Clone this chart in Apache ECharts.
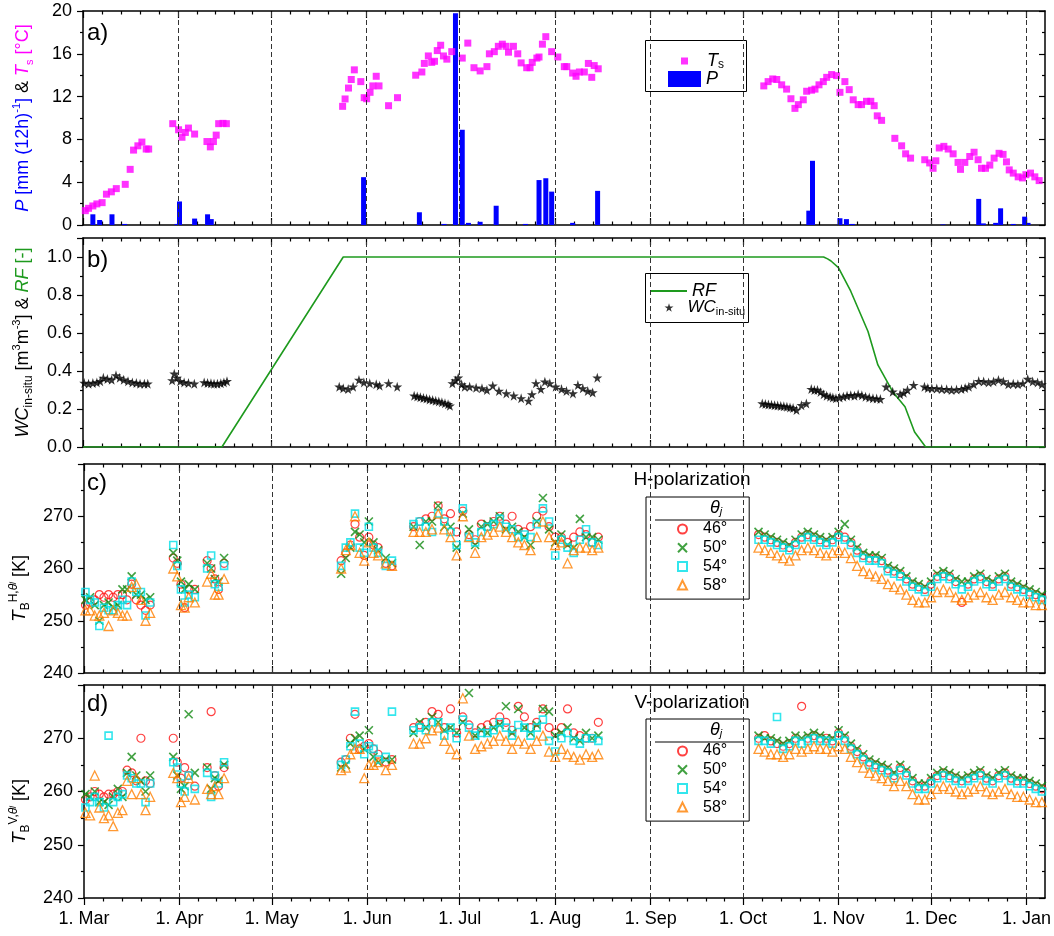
<!DOCTYPE html>
<html><head><meta charset="utf-8">
<script src="https://cdn.jsdelivr.net/npm/echarts@6/dist/echarts.min.js"></script>
<style>html,body{margin:0;padding:0;background:#fff}#c{width:1054px;height:936px}</style>
</head><body><div id="c"></div>
<script>
// ---------- axis labels ----------
const monthLabels = ['1. Mar','1. Apr','1. May','1. Jun','1. Jul','1. Aug','1. Sep','1. Oct','1. Nov','1. Dec','1. Jan'];
const monthStarts = [0,31,61,92,122,153,184,214,245,275,306]; // days after 1 Mar
const nextMonthStart = 337;

// ---------- panel a ----------
const tsDays = [0.75,1.8,3.2,4.5,6.2,7.6,9.2,10.8,13.7,15.3,16.4,17.8,19.1,20.5,21.3,
 29.1,31,32.1,33.2,34.2,36.2,40.2,41.3,42.3,43.2,44,45.4,46.5,
 84.2,85,86.1,87,88,90.1,91.2,92,93.1,94,95.1,96,99.1,102,
 107.9,109.9,110.7,112,113.1,114,114.9,116,116.9,118,119.6,123,124.8,126.8,128.8,131,131.8,133.4,134.7,136,137.2,138,139.6,141,142.1,143.9,145,145.7,147.2,147.9,149,150.1,152,154,156.1,156.9,158.8,159.9,161,162.6,163.9,165,165.8,167.1,
 220.8,222.2,223.7,225,226.6,228.2,229.6,230.9,232,233.6,234.7,236.3,237.4,238.7,240.1,241.2,242.8,244.4,245.5,247.1,248.5,249.8,251.4,252.5,254.1,255.5,256.6,257.6,259,263.3,265.5,266.8,268.4,273,274.6,275.7,276.6,277.7,279.2,280.6,282.2,283.8,284.6,286,287.6,289,290.3,291.4,292.7,294.1,295.5,297.1,298.4,299.5,300.4,301.7,303.3,304.7,305.8,307.3,308.7,310.1];
const tsVals = [1.34,1.56,1.78,1.97,2.09,2.88,3.1,3.4,3.8,5.2,7.0,7.4,7.75,7.1,7.1,
 9.47,8.9,8.2,8.65,9.06,8.5,7.8,7.3,7.8,8.4,9.47,9.5,9.47,
 11.09,11.78,12.8,13.6,14.5,13.4,11.9,11.8,12.4,13.0,13.9,13.0,11.15,11.9,
 14.0,14.3,15.1,15.8,15.2,15.3,16.3,16.8,15.8,15.5,16.2,15.6,17.0,14.7,14.4,14.8,16.0,16.2,16.7,16.9,16.7,16.15,16.7,16.0,15.15,14.7,14.7,15.2,15.6,15.7,16.9,17.6,16.2,15.7,14.8,14.8,14.2,13.9,14.3,14.3,15.1,13.8,14.9,14.6,
 13.0,13.4,13.65,13.6,13.1,12.7,11.8,10.9,11.25,11.7,12.5,12.6,12.7,13.1,13.4,13.8,14.06,13.96,12.4,13.4,12.65,11.7,11.25,11.25,11.56,11.56,11.15,10.2,9.78,8.1,7.4,6.65,6.25,6.1,5.8,5.3,6.0,7.2,7.35,7.1,6.65,5.85,5.2,5.85,6.4,6.8,6.1,5.3,5.3,5.6,6.25,6.7,6.6,5.9,5.15,4.85,4.5,4.4,4.7,4.85,4.5,4.15];
const pDays = [3.2,5.4,9.4,13.5,30.5,31.3,36.2,40.4,41.6,
 91.0,109.1,117.1,120.8,123.0,125,128.8,134.0,143.5,147.9,150.1,152.0,158.8,166.9,
 235.4,236.6,245.5,247.6,249.5,278.9,290.5,292,296,297.6,301.7,305.4,306.5];
const pVals = [1.0,0.47,1.0,0.1,0.1,2.2,0.6,1.0,0.55,
 4.47,1.19,0.1,19.8,8.9,0.2,0.3,1.8,0.1,4.2,4.37,3.12,0.2,3.19,
 1.34,6.0,0.63,0.55,0.1,0.05,2.44,0.15,0.2,1.56,0.1,0.78,0.2];

// ---------- panel b ----------
const rfDays = [0,45.05,84.4,240.2,241.5,242.6,245,249,254.6,257.8,262.6,266.6,269.7,273.3,312];
const rfVals = [0,0,1,1,0.99,0.979,0.944,0.82,0.608,0.432,0.291,0.212,0.079,0,0];
const wcDays = [0.4,1.8,3.2,4.5,5.6,6.6,7.9,9.3,10.7,11.9,13.2,14.6,16,17.3,18.5,19.9,21,
 28.9,29.6,30.5,31.5,32.8,34.2,36.1,39.3,40.4,41.5,42.5,43.6,44.7,45.7,46.7,
 83.1,84.4,86,87.6,89.5,91.1,93,95.1,96.2,99.1,101.9,
 107.4,108.4,109.4,110.4,111.4,112.4,113.4,114.4,115.4,116.4,117.4,118.4,119,
 119.8,120.8,121.7,122.8,123.8,125.4,127.5,129.4,131,132.9,134.9,137.3,139.7,142.1,144.5,145.6,146.9,148.5,149.8,151.4,153.3,155.2,156.8,158.9,160.5,162.1,163.7,165.3,166.8,
 220.3,221.3,222.3,223.3,224.3,225.3,226.3,227.3,228.3,229.3,230.3,231.4,233,234.6,
 236.2,237.2,238.2,239.2,240.2,241.2,242.3,243.2,244.2,245.4,246.6,247.8,249,250.2,251.4,252.6,253.8,255,256.2,257.4,258.6,260.5,262.6,265,266.2,267.4,269.4,
 272.9,274,275.3,276.9,278.5,280.1,281.7,283.3,284.9,286.1,287.3,288.9,290.5,292.1,293.7,295.3,296.9,298.5,300.1,301.7,303.2,304.8,306.4,308,309.6,311];
const wcVals = [.337,.333,.337,.340,.346,.364,.358,.354,.377,.364,.354,.346,.340,.337,.333,.333,.333,
 .351,.386,.364,.346,.340,.337,.333,.340,.337,.335,.333,.333,.335,.340,.346,
 .317,.309,.305,.317,.353,.340,.335,.330,.323,.335,.317,
 .270,.266,.262,.258,.255,.250,.247,.243,.240,.235,.230,.225,.217,
 .335,.350,.365,.330,.317,.317,.312,.309,.300,.323,.295,.282,.270,.256,.243,.277,.335,.305,.344,.335,.317,.305,.295,.282,.326,.309,.295,.287,.365,
 .229,.226,.224,.222,.220,.218,.216,.214,.212,.208,.205,.195,.220,.229,
 .305,.300,.300,.290,.277,.270,.265,.260,.256,.260,.265,.270,.273,.270,.277,.272,.265,.260,.256,.255,.252,.317,.291,.277,.285,.300,.326,
 .317,.310,.309,.308,.305,.304,.300,.302,.305,.310,.317,.330,.347,.345,.340,.345,.353,.345,.330,.333,.330,.335,.358,.345,.340,.330];

// ---------- panels c & d (shared observation days) ----------
const tbDays = [0.5,2,3.5,5,6.5,8,9.5,11,12.5,14,15.5,17,18.5,20,21.5,
 29,30.3,31.5,32.7,34,36,40,41.3,42.5,43.7,45.5,
 83.5,85,86.5,88,89.5,91,92.5,94,95.5,98,100,
 107,109,111,113,115,117,119,121,123,125,127,129,131,133,135,137,139,141,143,145,147,149,151,153,155,157,159,161,163,165,167,
 219,221,223,225,227,229,231,233,235,237,239,241,243,245,247,249,251,253,255,257,259,261,263,265,267,269,271,273,275,277,279,281,283,285,287,289,291,293,295,297,299,301,303,305,307,309,311];
const h46 = [253,253.5,254,255,254.5,255,254.5,255,255,254,257,254,253,252,253,
 262,261,257,252.5,256,256,261.5,260,258,256,261,
 261.5,263,264.5,268.5,266,262.5,266,264.5,264,261,260.5,
 268,269,269.5,270,272,269.5,270.5,267,271,266.5,265.5,268.5,268,269,270,268.5,270,267.5,267,268,270,271,268,266,266,265,266,267,266.5,265,266,
 266.5,266,265.5,265,264.5,264,265,266,266.5,266,265.5,265,265.5,266.5,266,265,263.5,262.5,262,262,261.5,260,259.5,259,258,257,256.5,256,257,258.5,259,258.5,257.5,253.5,257,258,258.5,257.5,257,258,258.5,257,256.5,256,255.5,255,254.5];
const h50 = [254,254.5,253,250,253,253.5,252.5,253,256,256,258.5,255,255,254,254.5,
 263,261.5,257.5,256,257,256,261,260,258,257.5,262,
 259,262,264,267,266.5,265,269,265,263.5,262,261,
 268,264.5,269,269,272,268,268,264,270.5,267.5,264.5,268,268.5,269,270,267.5,268,267,266,264.5,269,273.5,267.5,265,266.5,264.5,264,269.5,266,266,265.5,
 267,266.5,266,265.5,265,264.5,265.5,266.5,267,266.5,266,265.5,266,267,268.5,265.5,264,263,262.5,262.5,262,260.5,260,259.5,258.5,257.5,257,256.5,257.5,259,259.5,259,258,257.5,257.5,258.5,259,258,257.5,258.5,259,257.5,257,256.5,256,255.5,255];
const h54 = [255.5,254,253.5,249,252.5,252,252,253,254,253,257.5,255.5,255.5,251,253.5,
 264.5,260.5,256,253.5,255,254.5,260,262.5,257,256.5,260.5,
 260.5,264,265,270.5,264,263,268,264,263,260.5,261.5,
 268.5,269,268,267,270.5,269,267,264.5,271.5,266,265,267,268,268.5,269.5,268,267.5,266,266.5,266,268.5,271.5,269,262.5,265.5,264,263,265.5,267.5,265,264.5,
 265.5,265.5,265,264.5,264,263.5,264.5,265.5,266,265.5,265,264.5,265,266,265.5,264.5,263,262,261.5,261.5,261,259.5,259,258.5,257.5,256.5,256,255.5,256.5,258,258.5,258,257,256,256.5,257.5,258,257,256.5,257.5,258,256.5,256,255.5,255,254.5,254];
const h58 = [252,252,251,251,251.5,249,252,251.5,251,251,256.5,257,254,250,251.5,
 260,258.5,253,252.5,254.5,253.5,257.5,259,255,255,258,
 260,263.5,264.5,270,263,261.5,265,263,262.5,261,260.5,
 267,267,267,267.5,270.5,267.5,266,262.5,270,266,263,266,266.5,267,268,267,266,265,264.5,263.5,266,269,266,264.5,265,261,263.5,264,264,263.5,264,
 264,263.5,263,262.5,262,261.5,262.5,263.5,264,263.5,263,262.5,263,263.5,263,262,260.5,259.5,259,258.5,258,257,256.5,256,255,254,253.5,253.5,254.5,255.5,256,255.5,254.5,254,254.5,255,255.5,254.5,254,255,255.5,254.5,254,253.5,253.5,253,253];
const v46 = [258.5,259,260,259.5,259,259.5,259.5,260,260,264,263.5,262,270,262,261.5,
 270,265.5,262.5,264.5,263,261,264.5,275,263,261,264.5,
 265.5,266,270,274.5,268,268.5,269,268,267,265.5,266,
 272,272.5,273,275,274.5,272,275.5,271,274,272.5,271,272,272.5,273,274,273,271.5,276,274,272,273,275.5,272,271,272,275.5,271,270.5,270,270,273,
 270,270.5,269.5,269,268.5,269,270,276,270,270.5,270,270,269.5,271,270,268.5,267.5,266.5,265.5,265,264.5,264,263,264.5,263.5,262,261,261,262,263,263.5,263,262.5,262,262.5,263,263.5,262.5,262,263,263.5,262.5,262,262,261.5,261,260.5];
const v50 = [259.5,259,260,258,258,257.5,259,260.5,259,263.5,266.5,263,262,260,263,
 266.5,263,260.5,261,274.5,263.5,264.5,260.5,262.5,262,265,
 264.5,265,269,270,270.5,268,271.5,266.5,265.5,266,266,
 271,273,272,274,273,271.5,272,271,273,278.5,270.5,271.5,271,272,272.5,276,271,275.5,272,271,272.5,275.5,275,270.5,271,272,270,269.5,271,270,270.5,
 270.5,270,270,269.5,269,269.5,270.5,270,270.5,271,270.5,270,270,271.5,270.5,269,268,267,266,265.5,265,264.5,263.5,265,264,262.5,261.5,261.5,262.5,263.5,264,263.5,263,262.5,263,263.5,264,263,262.5,263.5,264,263,262.5,262.5,262,261.5,261];
const v54 = [257,258,259,258,257,270.5,258,259,259.5,263,262.5,261.5,261.5,258,261.5,
 265.5,264.5,261.5,260,263,260.5,263.5,259,263,261.5,265.5,
 265,266,268.5,275,269,267,268.5,268,266,266.5,275,
 271.5,272,271.5,273,273,270.5,272,270,273.5,272,270.5,271,271,271.5,273,272,270.5,272.5,272,270.5,272,273.5,269.5,267.5,270,271,269.5,269,270,270,269.5,
 269.5,269.5,269,274,268,268.5,269.5,269,269.5,270,269.5,269.5,269,270.5,269.5,268,267,266,265,264.5,264,263.5,262.5,264,263,261.5,260.5,260.5,261.5,262.5,263,262.5,262,261.5,262,262.5,263,262,261.5,262.5,263,262,261.5,261.5,261,260.5,260];
const v58 = [256,255.5,263,257,255,255.5,253.5,256,256.5,262,259.5,262.5,259.5,256.5,259,
 263.5,262.5,258,259,262.5,258.5,260.5,259.5,261,259.5,262.5,
 264,264.5,267,268,268,262.5,265,265,265.5,264,265,
 269,269,270,271.5,272,269.5,268,267,277.5,270.5,268,268.5,269,269.5,270.5,269.5,268,269.5,269,268,269.5,270.5,267.5,266.5,268,267,266.5,266,267,266.5,267,
 268,267.5,267,267,266.5,267,268,267.5,268,268.5,268,268,267.5,268.5,268,266.5,265.5,264.5,263.5,263,262.5,262,261,262,261,259.5,258.5,258.5,259.5,260.5,261,260.5,260,259.5,260,260.5,261,260,259.5,260,260.5,259.5,259,259,258.5,258,258];

// ---------- build ----------
const FONT = '"Liberation Sans", Arial, sans-serif';
const zip = (xs, ys) => xs.map((x, i) => [x, ys[i]]);
const bounds = monthStarts.concat([nextMonthStart]);
const minorDays = [];
for (let m = 0; m < monthStarts.length; m++) {
  const s = bounds[m], len = bounds[m + 1] - s;
  for (let k = 1; k < 5; k++) minorDays.push(s + k * len / 5);
}
const grids = [
  {left: 83, right: 9, top: 11, height: 214},
  {left: 83, right: 9, top: 238, height: 209},
  {left: 83, right: 9, top: 464, height: 209},
  {left: 83, right: 9, top: 685, height: 213}
];
const base = (sz, col, extra) => Object.assign({fontFamily: FONT, fontSize: sz, color: col, lineHeight: 24}, extra || {});
const yNames = [
  {name: '{pi|P}{pb| [mm (12h)}{pbs|-1}{pb|]}{k| & }{ti|T}{tsub|s}{t| [°C]}', gap: 48, pad: [0,0,0,0],
   rich: {pi: base(18,'#0000ff',{fontStyle:'italic'}), pb: base(18,'#0000ff'), pbs: base(11,'#0000ff',{lineHeight:12, verticalAlign:'top'}),
          k: base(18,'#000'), ti: base(18,'#ff00ff',{fontStyle:'italic'}), tsub: base(11,'#ff00ff',{lineHeight:12, verticalAlign:'bottom'}), t: base(18,'#ff00ff')}},
  {name: '{wi|WC}{wsub|in-situ}{k| [m}{ksup|3}{k|m}{ksup|-3}{k|] & }{gi|RF}{g| [-]}', gap: 48, pad: [0,0,0,0],
   rich: {wi: base(18,'#000',{fontStyle:'italic'}), wsub: base(12,'#000',{lineHeight:12, verticalAlign:'bottom'}), k: base(18,'#000'),
          ksup: base(11,'#000',{lineHeight:12, verticalAlign:'top'}), gi: base(18,'#1e9a1e',{fontStyle:'italic'}), g: base(18,'#1e9a1e')}},
  {name: '{ti|T}{sub|B}{sup|H,}{supi|θ}{supj|j}{k| [K]}', gap: 47, pad: [0,40,0,0],
   rich: {ti: base(19,'#000',{fontStyle:'italic'}), sub: base(12,'#000',{lineHeight:12, verticalAlign:'bottom'}),
          sup: base(12,'#000',{lineHeight:12, verticalAlign:'top'}), supi: base(12,'#000',{lineHeight:12, verticalAlign:'top', fontStyle:'italic'}),
          supj: base(8,'#000',{lineHeight:8, verticalAlign:'top', fontStyle:'italic'}), k: base(18,'#000')}},
  {name: '{ti|T}{sub|B}{sup|V,}{supi|θ}{supj|j}{k| [K]}', gap: 47, pad: [0,40,0,0], rich: null}
];
yNames[3].rich = yNames[2].rich;
const yCfg = [
  {min: 0, max: 20, interval: 4, fmt: v => String(v)},
  {min: 0, max: 1.1, interval: 0.2, fmt: v => (v <= 1.0001 && Math.abs(Math.round(v * 5) - v * 5) < 1e-6) ? v.toFixed(1) : ''},
  {min: 240, max: 280, interval: 10, fmt: v => v < 280 ? String(v) : ''},
  {min: 240, max: 280, interval: 10, fmt: v => v < 280 ? String(v) : ''}
];
const AX = {color: '#000', width: 1.5};
const TK = {color: '#000', width: 1.2};
const xAxis = [], yAxis = [];
grids.forEach((g, gi) => {
  const last = gi === 3;
  const common = {type: 'value', gridIndex: gi, min: 0, max: 312, splitLine: {show: false}};
  xAxis.push(Object.assign({}, common, {position: 'bottom',
    axisLine: {show: true, onZero: false, lineStyle: AX},
    axisTick: {show: true, inside: !last, length: 7, customValues: monthStarts, lineStyle: TK},
    axisLabel: {show: last, customValues: monthStarts, margin: 12, color: '#000', fontFamily: FONT, fontSize: 18,
      formatter: v => { const i = monthStarts.indexOf(Math.round(v)); return i >= 0 ? monthLabels[i] : ''; }}}));
  xAxis.push(Object.assign({}, common, {position: 'bottom',
    axisLine: {show: false, onZero: false}, axisLabel: {show: false},
    axisTick: {show: true, inside: !last, length: 3.5, customValues: minorDays, lineStyle: TK}}));
  xAxis.push(Object.assign({}, common, {position: 'top',
    axisLine: {show: true, onZero: false, lineStyle: AX}, axisLabel: {show: false},
    axisTick: {show: true, inside: true, length: 7, customValues: monthStarts, lineStyle: TK}}));
  xAxis.push(Object.assign({}, common, {position: 'top',
    axisLine: {show: false, onZero: false}, axisLabel: {show: false},
    axisTick: {show: true, inside: true, length: 3.5, customValues: minorDays, lineStyle: TK}}));
  const yc = yCfg[gi], yn = yNames[gi];
  const ycommon = {type: 'value', gridIndex: gi, min: yc.min, max: yc.max, interval: yc.interval,
    splitLine: {show: false}, minorSplitLine: {show: false}};
  yAxis.push(Object.assign({}, ycommon, {position: 'left',
    axisLine: {show: true, onZero: false, lineStyle: AX},
    axisTick: {show: true, inside: false, length: 6, lineStyle: TK},
    minorTick: {show: true, splitNumber: 2, length: 3, lineStyle: TK},
    axisLabel: {color: '#000', fontFamily: FONT, fontSize: 18, margin: 11, formatter: yc.fmt},
    name: yn.name, nameLocation: 'middle', nameRotate: 90, nameGap: yn.gap,
    nameTextStyle: {rich: yn.rich, padding: yn.pad}}));
  yAxis.push(Object.assign({}, ycommon, {position: 'right',
    axisLine: {show: true, onZero: false, lineStyle: AX},
    axisTick: {show: true, inside: true, length: 6, lineStyle: TK},
    minorTick: {show: true, splitNumber: 2, length: 3, lineStyle: TK},
    axisLabel: {show: false}}));
});

const dashLines = {silent: true, symbol: ['none', 'none'], label: {show: false}, animation: false,
  lineStyle: {color: '#333', type: [5, 3], width: 1},
  emphasis: {disabled: true},
  data: monthStarts.slice(1).map(v => ({xAxis: v}))};
const STAR = 'path://M50,0L61,35L98,35L68,57L79,91L50,70L21,91L32,57L2,35L39,35Z';
const XSYM = 'path://M0,0L10,10M10,0L0,10';
const angleStyles = [
  {name: '46°', symbol: 'circle', size: 8, color: '#ff1010', bw: 1.2},
  {name: '50°', symbol: XSYM, size: 8, color: '#128a12', bw: 1.6},
  {name: '54°', symbol: 'rect', size: 7, color: '#00e0e8', bw: 1.6},
  {name: '58°', symbol: 'triangle', size: 9, color: '#ff8000', bw: 1.3}
];
const hSets = [h46, h50, h54, h58], vSets = [v46, v50, v54, v58];
const series = [
  {name: 'P', type: 'bar', xAxisIndex: 0, yAxisIndex: 0, barWidth: 5, itemStyle: {color: '#0000ff'},
   data: zip(pDays, pVals), markLine: dashLines, silent: true, z: 2},
  {name: 'Ts', type: 'scatter', xAxisIndex: 0, yAxisIndex: 0, symbol: 'rect', symbolSize: 7,
   itemStyle: {color: '#ff00ff'}, data: zip(tsDays, tsVals), silent: true, z: 3},
  {name: 'RF', type: 'line', xAxisIndex: 4, yAxisIndex: 2, symbol: 'none', smooth: false,
   lineStyle: {color: '#1e9a1e', width: 1.6}, itemStyle: {color: '#1e9a1e'},
   data: zip(rfDays, rfVals), markLine: dashLines, silent: true, z: 2},
  {name: 'WC', type: 'scatter', xAxisIndex: 4, yAxisIndex: 2, symbol: STAR, symbolSize: 10,
   itemStyle: {color: '#000'}, data: zip(wcDays, wcVals), silent: true, z: 3}
];
[[hSets, 8, 4], [vSets, 12, 6]].forEach(([sets, xi, yi]) => {
  sets.forEach((vals, k) => {
    const st = angleStyles[k];
    const s = {name: st.name, type: 'scatter', xAxisIndex: xi, yAxisIndex: yi, symbol: st.symbol, symbolSize: st.size,
      itemStyle: {color: 'rgba(0,0,0,0)', borderColor: st.color, borderWidth: st.bw},
      data: zip(tbDays, vals).filter(p => p[1] != null), silent: true, z: 3 + k};
    if (k === 0) s.markLine = dashLines;
    series.push(s);
  });
});

const legRich = {
  pad14: {width: 14}, pad9: {width: 9}, pad11: {width: 11},
  ti: {fontFamily: FONT, fontSize: 18, fontStyle: 'italic', color: '#000', lineHeight: 20},
  tiw: {fontFamily: FONT, fontSize: 17, fontStyle: 'italic', color: '#000', lineHeight: 20},
  sub: {fontFamily: FONT, fontSize: 12, color: '#000', lineHeight: 10, verticalAlign: 'bottom'},
  subw: {fontFamily: FONT, fontSize: 11, color: '#000', lineHeight: 10, verticalAlign: 'bottom'},
  t: {fontFamily: FONT, fontSize: 16, color: '#000', lineHeight: 16}
};
const legBase = {selectedMode: false, padding: 0, itemGap: 0, textStyle: {rich: legRich, fontFamily: FONT}};
const legend = [
  Object.assign({}, legBase, {data: ['Ts'], left: 681, top: 52, itemWidth: 7, itemHeight: 7, icon: 'rect',
    formatter: () => '{pad14|}{ti|T}{sub|s}'}),
  Object.assign({}, legBase, {data: ['P'], left: 668, top: 70, itemWidth: 33, itemHeight: 16, icon: 'rect',
    formatter: () => '{ti|P}'}),
  Object.assign({}, legBase, {data: [{name: 'RF', icon: 'rect'}], left: 651, top: 282, itemWidth: 36, itemHeight: 2,
    formatter: () => '{ti|RF}'}),
  Object.assign({}, legBase, {data: ['WC'], left: 664.5, top: 299, itemWidth: 9, itemHeight: 9,
    formatter: () => '{pad9|}{tiw|WC}{subw|in-situ}'}),
  Object.assign({}, legBase, {data: ['46°','50°','54°','58°'], orient: 'vertical', left: 646, top: 497,
    padding: [24, 22, 6, 31], itemGap: 2.7, itemWidth: 9, itemHeight: 9, borderColor: '#000', borderWidth: 1,
    formatter: n => '{pad11|}{t|' + n + '}'}),
  Object.assign({}, legBase, {data: ['46°','50°','54°','58°'], orient: 'vertical', left: 646, top: 719,
    padding: [24, 22, 6, 31], itemGap: 2.7, itemWidth: 9, itemHeight: 9, borderColor: '#000', borderWidth: 1,
    formatter: n => '{pad11|}{t|' + n + '}'})
];
const thetaRich = {ti: {fontFamily: FONT, fontSize: 18, fontStyle: 'italic', fill: '#000'},
                   sub: {fontFamily: FONT, fontSize: 11, fontStyle: 'italic', fill: '#000', verticalAlign: 'bottom', lineHeight: 10}};
const txt = (x, y, text, size, align) => ({type: 'text', x: x, y: y, silent: true,
  style: {text: text, fontFamily: FONT, fontSize: size, fill: '#000', align: align || 'left', verticalAlign: 'middle'}});
const graphic = [
  txt(87, 33, 'a)', 24), txt(87, 260, 'b)', 24), txt(87, 483, 'c)', 24), txt(87, 704, 'd)', 24),
  txt(692, 480, 'H-polarization', 19, 'center'), txt(692, 703, 'V-polarization', 19, 'center'),
  {type: 'rect', silent: true, shape: {x: 645.5, y: 40.5, width: 101, height: 51}, style: {fill: 'none', stroke: '#000', lineWidth: 1}},
  {type: 'rect', silent: true, shape: {x: 645.5, y: 273.5, width: 103, height: 49}, style: {fill: 'none', stroke: '#000', lineWidth: 1}},
  {type: 'text', x: 716, y: 508, silent: true, style: {text: '{ti|θ}{sub|j}', rich: thetaRich, align: 'center', verticalAlign: 'middle'}},
  {type: 'text', x: 716, y: 730, silent: true, style: {text: '{ti|θ}{sub|j}', rich: thetaRich, align: 'center', verticalAlign: 'middle'}},
  {type: 'line', silent: true, shape: {x1: 655, y1: 520, x2: 743, y2: 520}, style: {stroke: '#808080', lineWidth: 2}},
  {type: 'line', silent: true, shape: {x1: 655, y1: 742, x2: 743, y2: 742}, style: {stroke: '#808080', lineWidth: 2}}
];

const chart = echarts.init(document.getElementById('c'), null, {renderer: 'canvas'});
chart.setOption({
  animation: false, backgroundColor: '#fff',
  grid: grids, xAxis: xAxis, yAxis: yAxis, series: series, legend: legend, graphic: graphic
});
</script></body></html>
